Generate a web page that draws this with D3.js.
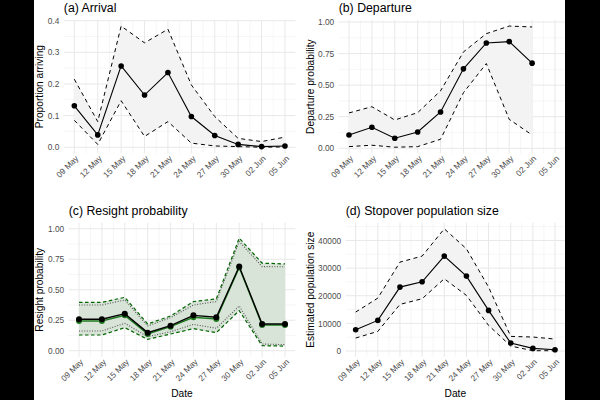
<!DOCTYPE html>
<html>
<head>
<meta charset="utf-8">
<script src="https://cdn.jsdelivr.net/npm/d3@7"></script>
<style>
body { margin: 0; background: #fff; }
svg { display: block; font-family: 'Liberation Sans', Arial, sans-serif; }
</style>
</head>
<body>
<div id="chart"></div>
<script>
// survey dates (every 3 days)
var dates = ['2021-05-09','2021-05-12','2021-05-15','2021-05-18','2021-05-21',
             '2021-05-24','2021-05-27','2021-05-30','2021-06-02','2021-06-05']

// (a) arrival
var arrivalMean = [0.131, 0.039, 0.257, 0.165, 0.236, 0.097, 0.037, 0.009, 0.002, 0.004]
var arrivalLow  = [0.085, 0.009, 0.147, 0.034, 0.081, 0.013, 0.004, 0.002, 0.000, 0.001]
var arrivalHigh = [0.215, 0.081, 0.383, 0.330, 0.373, 0.197, 0.097, 0.028, 0.018, 0.032]

// (b) departure (no estimate for last date)
var departureMean = [0.105, 0.166, 0.079, 0.129, 0.287, 0.629, 0.834, 0.845, 0.674]
var departureLow  = [0.013, 0.024, 0.008, 0.013, 0.071, 0.440, 0.671, 0.229, 0.105]
var departureHigh = [0.280, 0.329, 0.224, 0.282, 0.455, 0.763, 0.908, 0.968, 0.961]

// (c) resight, two estimates
var resightMean  = [0.258, 0.258, 0.304, 0.148, 0.205, 0.290, 0.274, 0.690, 0.219, 0.219]
var resightLow   = [0.162, 0.162, 0.225, 0.115, 0.156, 0.216, 0.184, 0.367, 0.055, 0.050]
var resightHigh  = [0.375, 0.375, 0.416, 0.203, 0.271, 0.375, 0.403, 0.896, 0.690, 0.688]
var resightMean2 = [0.244, 0.244, 0.290, 0.137, 0.197, 0.274, 0.260, 0.682, 0.211, 0.211]
var resightLow2  = [0.129, 0.129, 0.189, 0.093, 0.137, 0.181, 0.148, 0.329, 0.041, 0.038]
var resightHigh2 = [0.397, 0.397, 0.438, 0.219, 0.285, 0.403, 0.425, 0.923, 0.718, 0.712]

// (d) stopover population
var popMean = [7700, 11080, 23130, 25060, 34340, 27110, 14700, 2890, 960, 480]
var popLow  = [4700, 7100, 16870, 18920, 26140, 20120, 9280, 1800, 120, 120]
var popHigh = [14100, 19150, 32170, 34340, 44220, 36990, 23130, 5300, 5060, 4340]

var yTicksA = [0, 0.1, 0.2, 0.3, 0.4]
var yTicksB = [0, 0.25, 0.5, 0.75, 1]
var yTicksD = [0, 10000, 20000, 30000, 40000]

var parseDate = d3.timeParse('%Y-%m-%d')
var days = dates.map(parseDate)
var DAY = 864e5

var svg = d3.select('#chart').append('svg')
            .attr('width', 600)
            .attr('height', 400)
svg.append('rect').attr('width', 600).attr('height', 400).attr('fill', '#fff')

function expand(lo, hi) {
	var e = (hi - lo) * 0.05
	return [lo - e, hi + e]
}

function toPts(mean, low, high) {
	return mean.map((m,i)=>({ d: days[i], m: m, lo: low[i], hi: high[i] }))
}

function drawPanel(p) {
	var x = d3.scaleTime()
		.domain([new Date(+days[0] - 1.35*DAY), new Date(+days[days.length-1] + 1.35*DAY)])
		.range([p.left, p.right])
	var y = d3.scaleLinear().domain(p.ydom).range([p.bottom, p.top])
	var g = svg.append('g')

	// grid: minor then major
	var xMinor = []
	for (var i = 0; i < days.length-1; i++) xMinor.push(new Date((+days[i] + +days[i+1])/2))
	var yStep = p.yticks[1] - p.yticks[0]
	var yMinor = []
	for (var v = p.yticks[0] - yStep/2; v <= p.ydom[1]; v += yStep)
		if (v >= p.ydom[0]) yMinor.push(v)

	g.selectAll('.vminor').data(xMinor).enter().append('line')
	 .attr('x1', d=>x(d)).attr('x2', d=>x(d)).attr('y1', p.top).attr('y2', p.bottom)
	 .attr('stroke', '#f0f0f0').attr('stroke-width', 0.6)
	g.selectAll('.hminor').data(yMinor).enter().append('line')
	 .attr('x1', p.left).attr('x2', p.right).attr('y1', d=>y(d)).attr('y2', d=>y(d))
	 .attr('stroke', '#f0f0f0').attr('stroke-width', 0.6)
	g.selectAll('.vmajor').data(days).enter().append('line')
	 .attr('x1', d=>x(d)).attr('x2', d=>x(d)).attr('y1', p.top).attr('y2', p.bottom)
	 .attr('stroke', '#e8e8e8').attr('stroke-width', 1)
	g.selectAll('.hmajor').data(p.yticks).enter().append('line')
	 .attr('x1', p.left).attr('x2', p.right).attr('y1', d=>y(d)).attr('y2', d=>y(d))
	 .attr('stroke', '#e8e8e8').attr('stroke-width', 1)

	// axes
	var xa = g.append('g').attr('transform', 'translate(0,' + (p.bottom + 1.5) + ')')
		.call(d3.axisBottom(x).tickValues(days).tickFormat(d3.timeFormat('%d %b')).tickSize(0).tickPadding(0))
	xa.select('.domain').remove()
	xa.selectAll('text')
	  .attr('transform', 'rotate(-45)')
	  .attr('text-anchor', 'end')
	  .attr('x', 0).attr('y', 0).attr('dy', '0.72em')
	  .style('font-size', '8.3px').attr('fill', '#4d4d4d')

	var ya = g.append('g').attr('transform', 'translate(' + (p.left - 4.5) + ',0)')
		.call(d3.axisLeft(y).tickValues(p.yticks).tickFormat(p.yfmt).tickSize(0).tickPadding(0))
	ya.select('.domain').remove()
	ya.selectAll('text').style('font-size', '8.3px').attr('fill', '#4d4d4d')

	// titles
	g.append('text').attr('x', p.left).attr('y', p.top - 8)
	 .style('font-size', '12.3px').attr('fill', '#000').text(p.title)
	g.append('text')
	 .attr('transform', 'translate(' + p.ylabX + ',' + ((p.top + p.bottom)/2) + ') rotate(-90)')
	 .attr('text-anchor', 'middle').style('font-size', '10.2px').attr('fill', '#000')
	 .text(p.ylab)
	if (p.xlab) {
		g.append('text').attr('x', (p.left + p.right)/2).attr('y', 396.5)
		 .attr('text-anchor', 'middle').style('font-size', '10.2px').attr('fill', '#000')
		 .text(p.xlab)
	}

	var area = d3.area().x(d=>x(d.d)).y0(d=>y(d.lo)).y1(d=>y(d.hi))
	var lineM = d3.line().x(d=>x(d.d)).y(d=>y(d.m))
	var lineL = d3.line().x(d=>x(d.d)).y(d=>y(d.lo))
	var lineH = d3.line().x(d=>x(d.d)).y(d=>y(d.hi))

	p.series.forEach(s=>{
		if (s.fill) g.append('path').datum(s.pts).attr('d', area).attr('fill', s.fill)
	})
	p.series.forEach(s=>{
		[lineL, lineH].forEach(l=>{
			g.append('path').datum(s.pts).attr('d', l).attr('fill', 'none')
			 .attr('stroke', s.bound).attr('stroke-width', s.bw || 1)
			 .attr('stroke-dasharray', s.dash)
		})
	})
	p.series.forEach(s=>{
		g.append('path').datum(s.pts).attr('d', lineM).attr('fill', 'none')
		 .attr('stroke', s.color).attr('stroke-width', s.lw || 1.1)
		g.selectAll(null).data(s.pts).enter().append('circle')
		 .attr('cx', d=>x(d.d)).attr('cy', d=>y(d.m)).attr('r', s.r || 2.8)
		 .attr('fill', s.color)
	})
}

var fmt1 = d3.format('.1f'), fmt2 = d3.format('.2f'), fmt0 = d3.format('d')

drawPanel({
	left: 63.8, right: 295.5, top: 20, bottom: 153.3,
	ydom: expand(0, d3.max(arrivalHigh)), yticks: yTicksA, yfmt: fmt1,
	title: '(a) Arrival', ylab: 'Proportion arriving', ylabX: 43,
	series: [{ pts: toPts(arrivalMean, arrivalLow, arrivalHigh), fill: '#f3f3f3',
	           color: '#000', bound: '#000', dash: '4,3.5' }]
})

drawPanel({
	left: 338.7, right: 565.3, top: 20, bottom: 153.3,
	ydom: expand(d3.min(departureLow), d3.max(departureHigh)), yticks: yTicksB, yfmt: fmt2,
	title: '(b) Departure', ylab: 'Departure probability', ylabX: 313.5,
	series: [{ pts: toPts(departureMean, departureLow, departureHigh), fill: '#f3f3f3',
	           color: '#000', bound: '#000', dash: '4,3.5' }]
})

drawPanel({
	left: 68.7, right: 295.3, top: 222.7, bottom: 356.8,
	ydom: expand(0, 1), yticks: yTicksB, yfmt: fmt2,
	title: '(c) Resight probability', ylab: 'Resight probability', ylabX: 43, xlab: 'Date',
	series: [
		{ pts: toPts(resightMean2, resightLow2, resightHigh2), fill: '#d8e4d8',
		  color: '#1f7a1f', bound: '#006400', dash: '3.5,2.5', bw: 1.2, lw: 1.4, r: 3 },
		{ pts: toPts(resightMean, resightLow, resightHigh),
		  color: '#000', bound: '#555', dash: '1,1.6', bw: 1.1, lw: 1.4, r: 3 }
	]
})

drawPanel({
	left: 345.7, right: 565, top: 222.7, bottom: 356.8,
	ydom: expand(d3.min(popLow), d3.max(popHigh)), yticks: yTicksD, yfmt: fmt0,
	title: '(d) Stopover population size', ylab: 'Estimated population size', ylabX: 313.5, xlab: 'Date',
	series: [{ pts: toPts(popMean, popLow, popHigh), fill: '#f3f3f3',
	           color: '#000', bound: '#000', dash: '4,3.5' }]
})

// black bands at the picture edges
svg.append('rect').attr('x', 0).attr('y', 0).attr('width', 34).attr('height', 400).attr('fill', '#000')
svg.append('rect').attr('x', 565).attr('y', 0).attr('width', 35).attr('height', 400).attr('fill', '#000')
</script>
</body>
</html>
